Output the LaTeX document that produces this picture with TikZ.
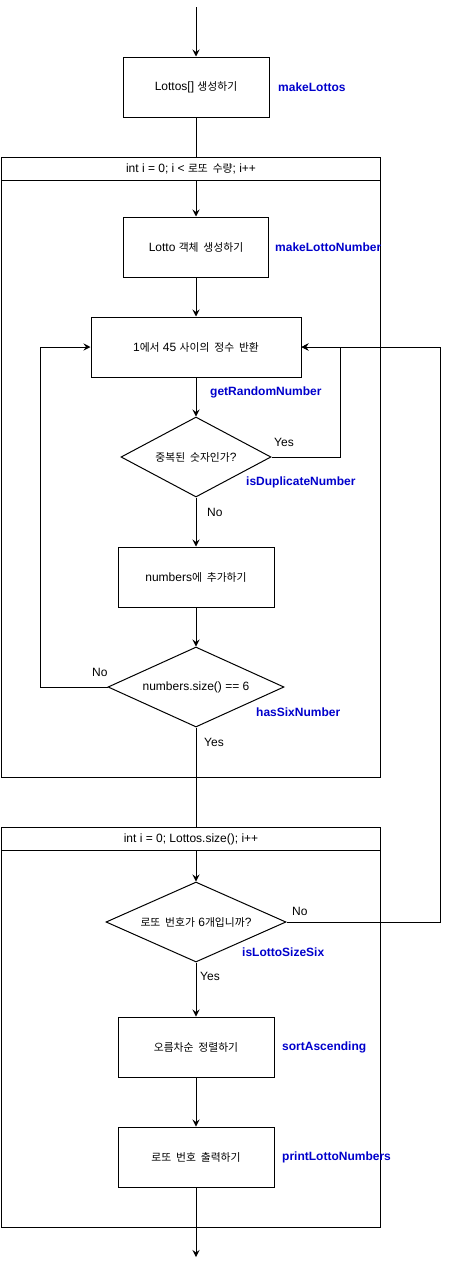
\documentclass[tikz,border=0pt]{standalone}
\usepackage{fontspec}
\setmainfont{Liberation Sans}
\newfontfamily\kr{Noto Sans CJK KR}[Scale=0.9,WordSpace=2]
\usetikzlibrary{shapes.geometric,arrows.meta}
\definecolor{lbl}{RGB}{0,0,204}
\begin{document}
\begin{tikzpicture}[x=1pt,y=-1pt,
  every node/.style={font=\fontsize{12pt}{14pt}\selectfont},
  proc/.style={draw, fill=white, line width=1pt, inner sep=0pt, minimum width=#1, minimum height=60pt},
  dec/.style={draw, fill=white, shape=diamond, aspect=2.2, inner sep=0pt, line width=1pt, minimum width=#1, minimum height=80pt},
  loopbox/.style={draw, fill=white, line width=1pt, inner sep=0pt, anchor=north west, minimum width=379pt, minimum height=#1},
  fname/.style={anchor=west, text=lbl, font=\fontsize{12pt}{14pt}\selectfont\bfseries, inner sep=0pt},
  cond/.style={anchor=west, inner sep=0pt},
  arr/.style={-{Stealth[length=7pt,width=7pt,inset=2.5pt]}, line width=1pt},
  ln/.style={line width=1pt}]
\useasboundingbox (0,0) rectangle (449,1266);

% loop containers
\node[loopbox=597pt] (l1) at (1,180) {};
\node[loopbox=23pt] (h1) at (1,157) {int i = 0; i < {\kr 로또 수량}; i++};
\node[loopbox=377pt] (l2) at (1,850) {};
\node[loopbox=23pt] (h2) at (1,827) {int i = 0; Lottos.size(); i++};

% process / decision nodes
\node[proc=146pt] (b1) at (196,87) {Lottos[] {\kr 생성하기}};
\node[proc=145pt] (b2) at (196,247) {Lotto {\kr 객체 생성하기}};
\node[proc=210pt] (b3) at (196,347) {1{\kr 에서} 45 {\kr 사이의 정수 반환}};
\node[dec=150pt] (d1) at (196,457) {{\kr 중복된 숫자인가}?};
\node[proc=156pt] (b4) at (196,577) {numbers{\kr 에 추가하기}};
\node[dec=176pt] (d2) at (196,687) {numbers.size() == 6};
\node[dec=180pt] (d3) at (196,922) {{\kr 로또 번호가} 6{\kr 개입니까}?};
\node[proc=156pt] (b5) at (196,1047) {{\kr 오름차순 정렬하기}};
\node[proc=156pt] (b6) at (196,1157) {{\kr 로또 번호 출력하기}};

\coordinate (start) at (196,7);
\coordinate (end) at (196,1257);

% connectors
\draw[arr] (start) -- (b1.north);
\draw[ln] (b1.south) -- (b1.south |- h1.north);
\draw[arr] (b2.north |- h1.south) -- (b2.north);
\draw[arr] (b2.south) -- (b3.north);
\draw[arr] (b3.south) -- (d1.north);
\draw[arr] (d1.east) -- ++(69,0) |- (b3.east);
\draw[arr] (d1.south) -- (b4.north);
\draw[arr] (b4.south) -- (d2.north);
\draw[arr] (d2.west) -- ++(-67,0) |- (b3.west);
\draw[ln] (d2.south) -- (d2.south |- h2.north);
\draw[arr] (d3.north |- h2.south) -- (d3.north);
\draw[arr] (d3.east) -- ++(154,0) |- (b3.east);
\draw[arr] (d3.south) -- (b5.north);
\draw[arr] (b5.south) -- (b6.north);
\draw[arr] (b6.south) -- (end);

% condition labels
\node[cond] (y1) at (274,442) {Yes};
\node[cond] (n1) at (207,512) {No};
\node[cond] (n2) at (92,672) {No};
\node[cond] (y2) at (204,742) {Yes};
\node[cond] (n3) at (292,911) {No};
\node[cond] (y3) at (200,976) {Yes};

% function names
\node[fname] (f1) at (278,87) {makeLottos};
\node[fname] (f2) at (275,247) {makeLottoNumber};
\node[fname] (f3) at (210,392) {getRandomNumber};
\node[fname] (f4) at (246,482) {isDuplicateNumber};
\node[fname] (f5) at (256,712) {hasSixNumber};
\node[fname] (f6) at (242,952) {isLottoSizeSix};
\node[fname] (f7) at (282,1047) {sortAscending};
\node[fname] (f8) at (282,1157) {printLottoNumbers};
\end{tikzpicture}
\end{document}
